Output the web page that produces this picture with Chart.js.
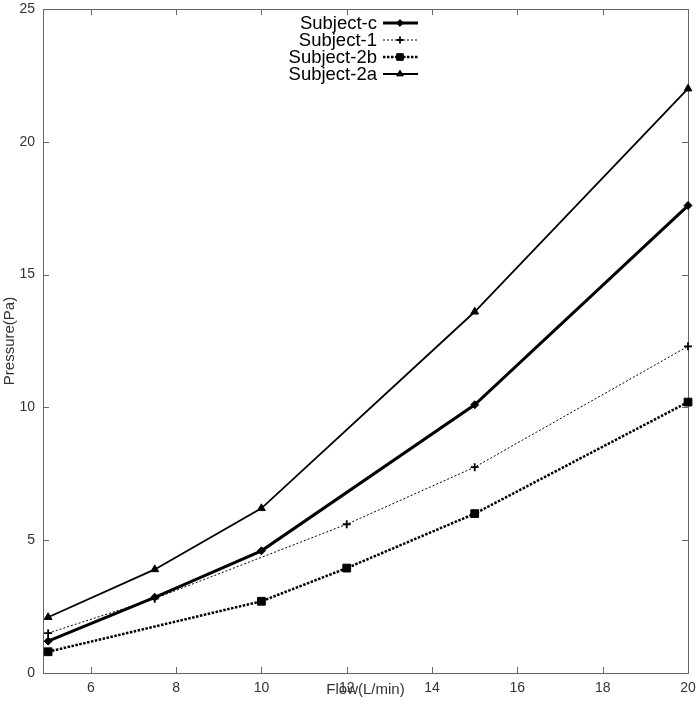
<!DOCTYPE html>
<html>
<head>
<meta charset="utf-8">
<script src="https://cdn.jsdelivr.net/npm/chart.js@4/dist/chart.umd.min.js"></script>
<style>
  html, body { margin: 0; padding: 0; background: #fff; }
  #wrap { width: 700px; height: 707px; }
</style>
</head>
<body>
<div id="wrap"><canvas id="flowChart"></canvas></div>
<script>
// values
const flowC = [5, 7.5, 10, 15, 20];
const pressureC = [1.2, 2.85, 4.6, 10.1, 17.6];
const flow1 = [5, 7.5, 12, 15, 20];
const pressure1 = [1.5, 2.8, 5.6, 7.75, 12.3];
const flow2b = [5, 10, 12, 15, 20];
const pressure2b = [0.8, 2.7, 3.95, 6.0, 10.2];
const flow2a = [5, 7.5, 10, 15, 20];
const pressure2a = [2.1, 3.9, 6.2, 13.6, 22.0];
const xTicks = [6, 8, 10, 12, 14, 16, 18, 20];
const yTicks = [0, 5, 10, 15, 20, 25];

function toPoints(xs, ys) {
    return xs.map((x, i) => ({ x: x, y: ys[i] }));
}

const FRAME = '#666';
const TEXT = '#333';
const FONT = '"Liberation Sans", Arial, sans-serif';

// gnuplot-ish frame with inward ticks on all four sides
const framePlugin = {
    id: 'frame',
    beforeDatasetsDraw(chart) {
        const ctx = chart.ctx;
        const a = chart.chartArea;
        const xs = chart.scales.x;
        const ys = chart.scales.y;
        ctx.save();
        ctx.strokeStyle = FRAME;
        ctx.lineWidth = 1;
        ctx.strokeRect(a.left + 0.5, a.top + 0.5, a.right - a.left, a.bottom - a.top);
        ctx.beginPath();
        xTicks.forEach(v => {
            const px = Math.round(xs.getPixelForValue(v)) + 0.5;
            ctx.moveTo(px, a.bottom); ctx.lineTo(px, a.bottom - 6);
            ctx.moveTo(px, a.top); ctx.lineTo(px, a.top + 6);
        });
        yTicks.forEach(v => {
            const py = Math.round(ys.getPixelForValue(v)) + 0.5;
            ctx.moveTo(a.left, py); ctx.lineTo(a.left + 6, py);
            ctx.moveTo(a.right, py); ctx.lineTo(a.right - 6, py);
        });
        ctx.stroke();
        ctx.restore();
    }
};

// legend with text on the left of the line sample
const keyPlugin = {
    id: 'key',
    afterDraw(chart) {
        const ctx = chart.ctx;
        const textRight = 377;
        const lineL = 383, lineR = 418, markX = 400;
        const rowY = [23, 40, 57, 74];
        ctx.save();
        ctx.font = '18.5px ' + FONT;
        ctx.textAlign = 'right';
        ctx.textBaseline = 'middle';
        chart.data.datasets.forEach((ds, i) => {
            const y = rowY[i];
            ctx.fillStyle = '#000';
            ctx.fillText(ds.label, textRight, y + 1);
            ctx.beginPath();
            ctx.strokeStyle = ds.borderColor;
            ctx.lineWidth = ds.borderWidth;
            ctx.setLineDash(ds.borderDash || []);
            ctx.moveTo(lineL, y);
            ctx.lineTo(lineR, y);
            ctx.stroke();
            ctx.setLineDash([]);
            ctx.fillStyle = '#000';
            ctx.strokeStyle = '#000';
            ctx.lineWidth = ds.pointBorderWidth || 1;
            Chart.helpers.drawPoint(ctx, {
                pointStyle: ds.pointStyle,
                radius: ds.pointRadius * 0.85,
                borderWidth: ds.pointBorderWidth || 1,
                rotation: 0
            }, markX, y);
        });
        ctx.restore();
    }
};

const ctx = document.getElementById('flowChart').getContext('2d');
new Chart(ctx, {
    type: 'line',
    data: {
        datasets: [{
            label: 'Subject-c',
            data: toPoints(flowC, pressureC),
            borderColor: '#000',
            backgroundColor: '#000',
            borderWidth: 3,
            pointStyle: 'rectRot',
            pointRadius: 4,
            pointBorderWidth: 1
        }, {
            label: 'Subject-1',
            data: toPoints(flow1, pressure1),
            borderColor: '#000',
            backgroundColor: '#000',
            borderWidth: 1,
            borderDash: [2, 2],
            pointStyle: 'cross',
            pointRadius: 4,
            pointBorderWidth: 1.8
        }, {
            label: 'Subject-2b',
            data: toPoints(flow2b, pressure2b),
            borderColor: '#000',
            backgroundColor: '#000',
            borderWidth: 2.5,
            borderDash: [2.5, 1.5],
            pointStyle: 'rect',
            pointRadius: 5.5,
            pointBorderWidth: 1
        }, {
            label: 'Subject-2a',
            data: toPoints(flow2a, pressure2a),
            borderColor: '#000',
            backgroundColor: '#000',
            borderWidth: 1.8,
            pointStyle: 'triangle',
            pointRadius: 4.5,
            pointBorderWidth: 1
        }]
    },
    options: {
        responsive: true,
        maintainAspectRatio: false,
        animation: false,
        layout: { padding: { top: 9, right: 12, left: 0, bottom: 0 } },
        elements: { line: { tension: 0 } },
        datasets: { line: { clip: false } },
        scales: {
            x: {
                type: 'linear',
                min: 4.88,
                max: 20,
                afterBuildTicks: scale => { scale.ticks = xTicks.map(v => ({ value: v })); },
                afterFit: scale => {
                    scale.height = 34;
                    scale.paddingLeft = 0;
                    scale.paddingRight = 0;
                },
                grid: { display: false, drawTicks: false },
                border: { display: false },
                ticks: {
                    padding: 7,
                    color: TEXT,
                    font: { family: FONT, size: 14 }
                },
                title: {
                    display: true,
                    text: 'Flow(L/min)',
                    color: TEXT,
                    padding: { top: 0, bottom: 8 },
                    font: { family: FONT, size: 15 }
                }
            },
            y: {
                min: 0,
                max: 25,
                afterBuildTicks: scale => { scale.ticks = yTicks.map(v => ({ value: v })); },
                afterFit: scale => {
                    scale.width = 43;
                    scale.paddingTop = 0;
                    scale.paddingBottom = 0;
                },
                grid: { display: false, drawTicks: false },
                border: { display: false },
                ticks: {
                    padding: 8,
                    color: TEXT,
                    font: { family: FONT, size: 14 }
                },
                title: {
                    display: true,
                    text: 'Pressure(Pa)',
                    color: TEXT,
                    padding: { top: 1, bottom: 0 },
                    font: { family: FONT, size: 15 }
                }
            }
        },
        plugins: {
            legend: { display: false },
            tooltip: { enabled: false }
        }
    },
    plugins: [framePlugin, keyPlugin]
});
</script>
</body>
</html>
